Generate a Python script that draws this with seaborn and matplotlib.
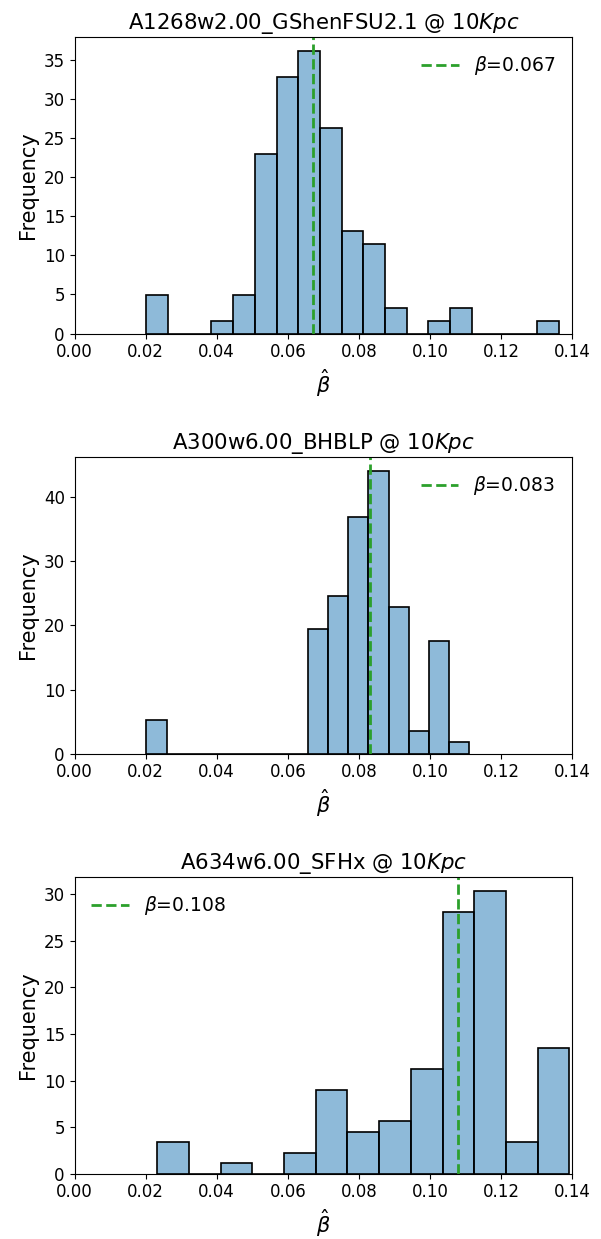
import numpy as np
import pandas as pd
import matplotlib
matplotlib.use("Agg")
import matplotlib.pyplot as plt
import seaborn as sns

# ---- data (bin counts, N=100 per panel) ----
titles = ["A1268w2.00_GShenFSU2.1 @ 10$Kpc$",
          "A300w6.00_BHBLP @ 10$Kpc$",
          "A634w6.00_SFHx @ 10$Kpc$"]
betas = [0.067, 0.083, 0.108]

bins1 = 19
range1 = (0.0202, 0.1362)
counts1 = [3, 0, 0, 1, 3, 14, 20, 22, 16, 8, 7, 2, 0, 1, 2, 0, 0, 0, 1]

bins2 = 16
range2 = (0.0202, 0.1111)
counts2 = [3, 0, 0, 0, 0, 0, 0, 0, 11, 14, 21, 25, 13, 2, 10, 1]

bins3 = 13
range3 = (0.0233, 0.1392)
counts3 = [3, 0, 1, 0, 2, 8, 4, 5, 10, 25, 27, 3, 12]

legend_locs = ["upper right", "upper right", "upper left"]
xticks = [0.00, 0.02, 0.04, 0.06, 0.08, 0.10, 0.12, 0.14]

plt.rcParams['font.family'] = ['DejaVu Sans']

fig = plt.figure(figsize=(6.01, 12.39), dpi=100)
bottoms = [0.7307, 0.3917, 0.0527]
axes = [fig.add_axes([0.124, b, 0.828, 0.2392]) for b in bottoms]

panels = [(bins1, range1, counts1), (bins2, range2, counts2), (bins3, range3, counts3)]
for ax, (nb, rng, cnt), title, beta, loc in zip(axes, panels, titles, betas, legend_locs):
    edges = np.linspace(rng[0], rng[1], nb + 1)
    centers = (edges[:-1] + edges[1:]) / 2
    df = pd.DataFrame({"beta_hat": centers, "count": cnt})
    sns.histplot(data=df, x="beta_hat", weights="count", bins=nb, binrange=rng,
                 stat="density", color="#1f77b4", alpha=0.5, edgecolor="black",
                 linewidth=1.2, ax=ax)
    ax.axvline(beta, color="#2ca02c", linestyle="--", linewidth=2,
               label=r"$\beta$=" + f"{beta:.3f}")
    ax.set_xlim(0, 0.14)
    ax.set_xticks(xticks)
    ax.set_xticklabels([f"{t:.2f}" for t in xticks])
    ax.tick_params(labelsize=12)
    ax.set_xlabel(r"$\hat{\beta}$", fontsize=15)
    ax.set_ylabel("Frequency", fontsize=15)
    ax.set_title(title, fontsize=15.3)
    ax.legend(loc=loc, frameon=False, fontsize=13.5)

fig.savefig("out.png", dpi=100)
